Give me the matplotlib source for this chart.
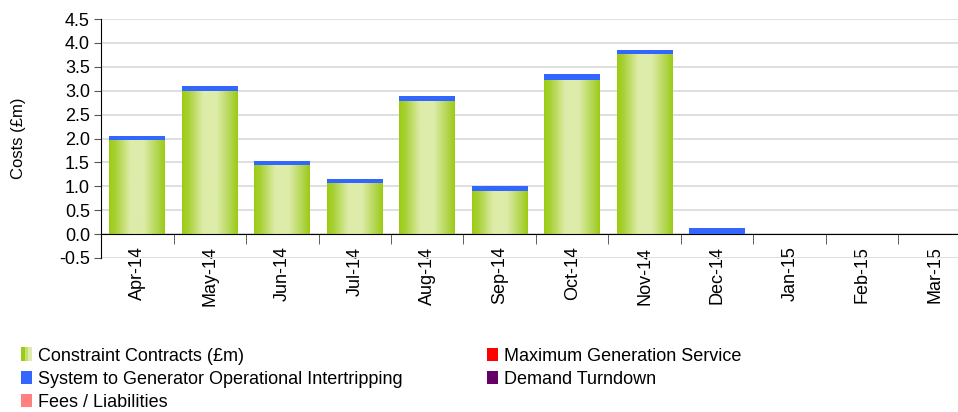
import numpy as np
import matplotlib
matplotlib.use("Agg")
import matplotlib.pyplot as plt
from matplotlib.colors import LinearSegmentedColormap
from matplotlib.patches import Patch, Rectangle
from matplotlib.legend_handler import HandlerBase

plt.rcParams['font.family'] = ['Liberation Sans', 'DejaVu Sans']
plt.rcParams['axes.unicode_minus'] = False

months = ["Apr-14", "May-14", "Jun-14", "Jul-14", "Aug-14", "Sep-14",
          "Oct-14", "Nov-14", "Dec-14", "Jan-15", "Feb-15", "Mar-15"]
constraint = [1.96, 3.00, 1.44, 1.07, 2.78, 0.91, 3.23, 3.76, 0.0, 0, 0, 0]
intertrip = [0.09, 0.10, 0.09, 0.08, 0.11, 0.09, 0.12, 0.09, 0.125, 0, 0, 0]
max_gen = [0] * 12
demand_turndown = [0] * 12
fees = [0] * 12

GREEN_EDGE = "#9BCB12"
GREEN_MID = "#DEECAA"
BLUE = "#3366FF"

# horizontal gradient used in the green bars
grad_cmap = LinearSegmentedColormap.from_list(
    "bar", [(0.0, GREEN_EDGE), (0.12, "#A9D137"), (0.38, GREEN_MID),
            (0.62, GREEN_MID), (0.88, "#B0D44A"), (1.0, GREEN_EDGE)])
grad = np.linspace(0, 1, 256).reshape(1, -1)


class GradHandler(HandlerBase):  # legend swatch for the gradient bars
    def create_artists(self, legend, orig, xd, yd, w, h, fontsize, trans):
        arts = []
        cols = [GREEN_EDGE, "#C4DF75", GREEN_MID]
        for i, c in enumerate(cols):
            arts.append(Rectangle((xd + i * w / 3, yd), w / 3, h, facecolor=c,
                                  edgecolor="none", transform=trans))
        return arts


fig = plt.figure(figsize=(9.58, 4.12), dpi=100)
ax = fig.add_axes([101 / 958, 1 - 258 / 412, 870 / 958, 239 / 412])

x = np.arange(len(months))
width = 0.77
bars = ax.bar(x, constraint, width, color="none", edgecolor="none", zorder=2)
for rect, val in zip(bars, constraint):
    if val <= 0:
        continue
    x0 = rect.get_x()
    im = ax.imshow(grad, cmap=grad_cmap, aspect="auto", zorder=2,
                   extent=[x0, x0 + rect.get_width(), 0, val])
    im.set_clip_path(rect)
ax.bar(x, intertrip, width, bottom=constraint, color=BLUE, zorder=3)

ax.set_xlim(-0.5, 11.5)
ax.set_ylim(-0.5, 4.5)

ax.set_yticks(np.arange(-0.5, 4.51, 0.5))
ax.set_yticklabels([f"{v:.1f}" for v in np.arange(-0.5, 4.51, 0.5)])
ax.tick_params(axis="y", labelsize=13, length=5, color="#555555", pad=3)
ax.set_ylabel("Costs (£m)", fontsize=12, labelpad=24)

ax.spines["bottom"].set_position(("data", 0))
ax.spines["top"].set_visible(False)
ax.spines["right"].set_visible(False)
ax.set_xticks(x)
ax.set_xticklabels(months, rotation=90, fontsize=13)
ax.set_xticks(x[:-1] + 0.5, minor=True)
ax.tick_params(axis="x", which="major", length=0, pad=9)
ax.tick_params(axis="x", which="minor", length=7, color="#444444")

ax.yaxis.grid(True, color="#DCDCDC", lw=1.3)
ax.set_axisbelow(True)

handles = [Patch(label="Constraint Contracts (£m)"),
           Patch(facecolor=BLUE, label="System to Generator Operational Intertripping"),
           Patch(facecolor="#FF8080", label="Fees / Liabilities"),
           Patch(facecolor="#FF0000", label="Maximum Generation Service"),
           Patch(facecolor="#660066", label="Demand Turndown")]
fig.legend(handles=handles, handler_map={handles[0]: GradHandler()},
           loc="upper left", bbox_to_anchor=(21 / 958, 1 - 348 / 412),
           ncol=2, frameon=False, fontsize=13, handlelength=0.6,
           handleheight=0.75, handletextpad=0.35, columnspacing=4.65,
           labelspacing=0.33, borderpad=0, borderaxespad=0)

fig.savefig("out.png", dpi=100)
